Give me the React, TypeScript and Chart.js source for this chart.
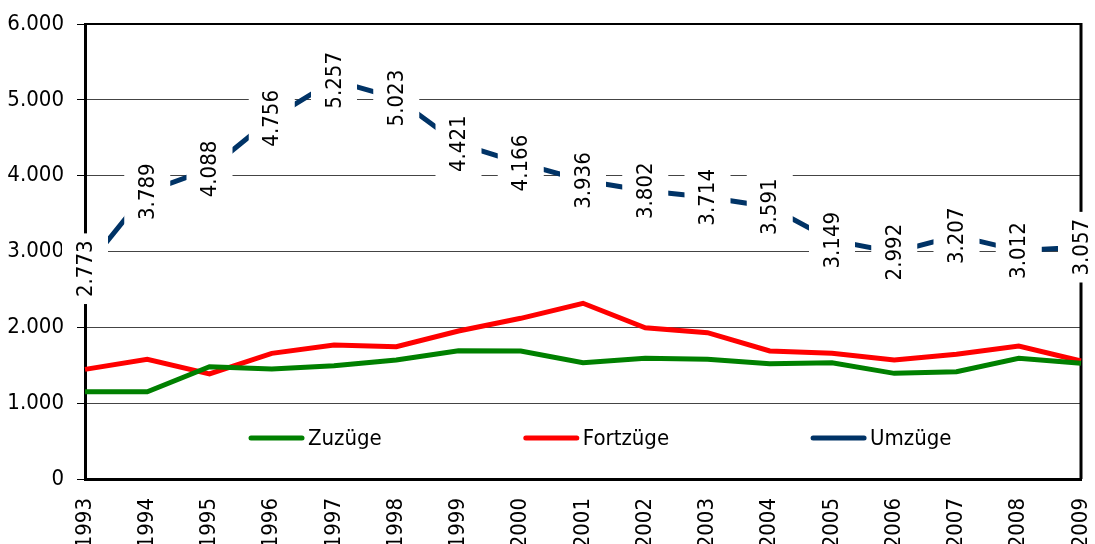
import React, { useEffect, useRef } from "react";
import { Chart, registerables } from "chart.js";

Chart.register(...registerables);

const years = ["1993","1994","1995","1996","1997","1998","1999","2000","2001","2002","2003","2004","2005","2006","2007","2008","2009"];
const zuzuege = [1150, 1150, 1481, 1450, 1494, 1569, 1692, 1688, 1534, 1592, 1578, 1521, 1534, 1393, 1415, 1592, 1525];
const fortzuege = [1446, 1578, 1385, 1657, 1767, 1745, 1952, 2119, 2317, 1995, 1929, 1688, 1657, 1569, 1644, 1754, 1556];
const umzuege = [2773, 3789, 4088, 4756, 5257, 5023, 4421, 4166, 3936, 3802, 3714, 3591, 3149, 2992, 3207, 3012, 3057];
const seriesNames = ["Zuzüge", "Fortzüge", "Umzüge"];
const seriesColors = ["#008000", "#FF0000", "#003366"];
const yTicks = [0, 1000, 2000, 3000, 4000, 5000, 6000];

const FONT = '"Liberation Sans Narrow", "Arial Narrow", "DejaVu Sans Condensed", sans-serif';
const FSIZE = 22;

const fmt = (v: number) => {
  const s = Math.round(v).toString();
  return s.replace(/\B(?=(\d{3})+(?!\d))/g, ".");
};

const framePlugin = {
  id: "frame",
  beforeDatasetsDraw(chart: any) {
    const { ctx, chartArea: a } = chart;
    ctx.save();
    ctx.strokeStyle = "#000";
    ctx.lineWidth = 2;
    ctx.beginPath();
    ctx.moveTo(a.left, a.top);
    ctx.lineTo(a.right, a.top);
    ctx.stroke();
    ctx.lineWidth = 3;
    ctx.beginPath();
    ctx.moveTo(a.right, a.top - 1);
    ctx.lineTo(a.right, a.bottom);
    ctx.stroke();
    ctx.restore();
  },
};

const legendPlugin = {
  id: "innerLegend",
  afterDraw(chart: any) {
    const { ctx, chartArea: a } = chart;
    ctx.save();
    ctx.font = `${FSIZE}px ${FONT}`;
    ctx.textBaseline = "middle";
    ctx.textAlign = "left";
    const y = a.bottom - 41;
    let x = a.left + 166;
    const sample = 51;
    const gap = 144;
    seriesNames.forEach((name, i) => {
      ctx.strokeStyle = seriesColors[i];
      ctx.lineWidth = 5;
      ctx.lineCap = "round";
      ctx.beginPath();
      ctx.moveTo(x, y);
      ctx.lineTo(x + sample, y);
      ctx.stroke();
      ctx.fillStyle = "#000";
      const tx = x + sample + 6;
      ctx.fillText(name, tx, y + 1);
      const w = ctx.measureText(name).width;
      x = tx + w + gap;
    });
    ctx.restore();
  },
};

const labelPlugin = {
  id: "vlabels",
  afterDraw(chart: any) {
    const { ctx } = chart;
    const meta = chart.getDatasetMeta(2);
    ctx.save();
    ctx.font = `${FSIZE}px ${FONT}`;
    meta.data.forEach((pt: any, i: number) => {
      const txt = fmt(umzuege[i]);
      const w = ctx.measureText(txt).width;
      const boxW = 46;
      const boxH = w + 14;
      ctx.fillStyle = "#fff";
      ctx.fillRect(pt.x - boxW / 2, pt.y - boxH / 2, boxW, boxH);
      ctx.save();
      ctx.translate(pt.x, pt.y);
      ctx.rotate(-Math.PI / 2);
      ctx.fillStyle = "#000";
      ctx.textAlign = "center";
      ctx.textBaseline = "middle";
      ctx.fillText(txt, 0, 1);
      ctx.restore();
    });
    ctx.restore();
  },
};

export default function App() {
  const ref = useRef<HTMLCanvasElement>(null);
  useEffect(() => {
    document.body.style.margin = "0";
    const datasets = [zuzuege, fortzuege, umzuege].map((d, i) => ({
      label: seriesNames[i],
      data: d,
      borderColor: seriesColors[i],
      backgroundColor: seriesColors[i],
      borderWidth: 5,
      pointRadius: 0,
      tension: 0,
      fill: false,
    }));
    const chart = new Chart(ref.current!, {
      type: "line",
      data: { labels: years, datasets },
      options: {
        animation: false,
        responsive: false,
        layout: { padding: { top: 24, right: 14, left: 0, bottom: 0 } },
        plugins: { legend: { display: false }, tooltip: { enabled: false } },
        scales: {
          x: {
            type: "category",
            offset: false,
            grid: { display: false, drawTicks: false },
            border: { display: true, color: "#000", width: 3 },
            ticks: {
              autoSkip: false,
              maxRotation: 90,
              minRotation: 90,
              padding: 19,
              color: "#000",
              font: { family: FONT, size: FSIZE },
            },
            afterFit: (s: any) => {
              s.height = 65;
              s.paddingLeft = 0;
              s.paddingRight = 0;
            },
          },
          y: {
            min: 0,
            max: 6000,
            afterBuildTicks: (s: any) => { s.ticks = yTicks.map((v) => ({ value: v })); },
            grid: { color: "#444", lineWidth: 1, tickLength: 8, tickColor: "#000", drawTicks: true },
            border: { display: true, color: "#000", width: 3 },
            ticks: {
              padding: 13,
              color: "#000",
              font: { family: FONT, size: FSIZE },
              callback: (v: any) => fmt(Number(v)),
            },
            afterFit: (s: any) => {
              s.width = 85;
              s.paddingTop = 0;
              s.paddingBottom = 0;
            },
          },
        },
      },
      plugins: [framePlugin, legendPlugin, labelPlugin],
    });
    return () => chart.destroy();
  }, []);
  return (
    <div style={{ width: 1095, height: 544 }}>
      <canvas ref={ref} width={1095} height={544} style={{ display: "block" }} />
    </div>
  );
}
